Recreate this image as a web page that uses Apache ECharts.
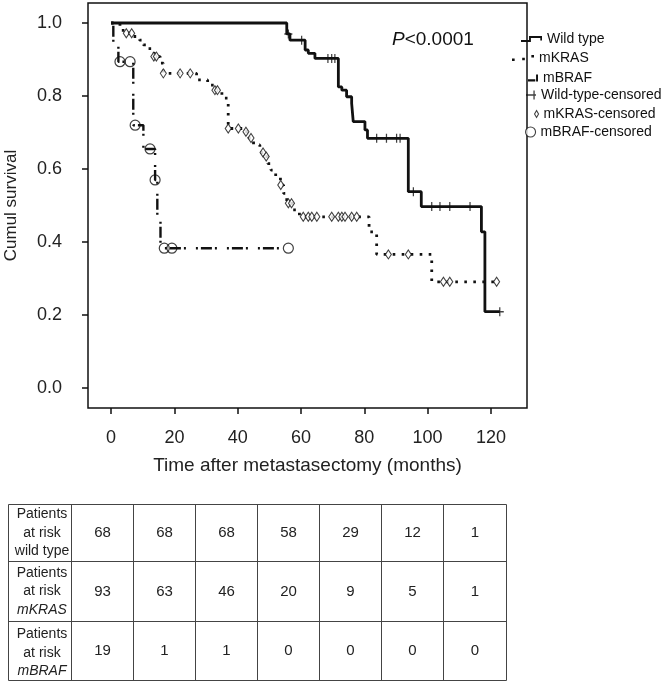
<!DOCTYPE html>
<html><head><meta charset="utf-8">
<script src="https://cdn.jsdelivr.net/npm/echarts@6/dist/echarts.min.js"></script>
<style>html,body{margin:0;padding:0;background:#fff}#c{width:668px;height:681px}</style>
</head><body><div id="c"></div>
<script>
// ---------- data ----------
const wtTime = [0, 55.5, 56.5, 61.3, 62.3, 64.4, 71.8, 72.9, 74.4, 76, 76.5, 80.2, 81, 93.9, 98, 117, 118.1, 122.8];
const wtSurv = [1, 0.97, 0.953, 0.926, 0.917, 0.903, 0.825, 0.816, 0.798, 0.78, 0.73, 0.707, 0.684, 0.538, 0.497, 0.428, 0.209, 0.209];
const wtCensT = [56, 60.2, 68.5, 69.7, 70.7, 83.9, 87, 90.2, 91.3, 95.5, 101.3, 103.9, 107, 113.4, 122.8];
const wtCensS = [0.97, 0.953, 0.903, 0.903, 0.903, 0.684, 0.684, 0.684, 0.684, 0.538, 0.497, 0.497, 0.497, 0.497, 0.209];

const krTime = [0, 2.8, 4.8, 7, 9, 10.2, 11.3, 12.8, 14, 15.5, 16.5, 27, 30.5, 32.5, 35, 37, 42, 43.5, 45, 47, 48.5, 49.5, 50.5, 52, 53.5, 54.5, 55.5, 57.5, 59.5, 81.5, 83.9, 101.3, 122.5];
const krSurv = [1, 0.98, 0.972, 0.963, 0.953, 0.94, 0.93, 0.917, 0.908, 0.89, 0.862, 0.844, 0.83, 0.816, 0.794, 0.711, 0.702, 0.685, 0.666, 0.645, 0.634, 0.615, 0.597, 0.579, 0.556, 0.533, 0.506, 0.488, 0.469, 0.428, 0.366, 0.291, 0.291];
const krCensT = [4.8, 6.5, 13.5, 14.3, 16.5, 21.8, 25, 32.8, 33.6, 37, 40.2, 42.6, 44.2, 48, 49, 53.6, 56, 57, 60.7, 62.3, 63.4, 65, 69.7, 71.8, 72.9, 73.9, 76, 77.6, 87.6, 93.9, 105, 107, 121.8];
const krCensS = [0.972, 0.972, 0.908, 0.908, 0.862, 0.862, 0.862, 0.816, 0.816, 0.711, 0.711, 0.702, 0.685, 0.645, 0.634, 0.556, 0.506, 0.506, 0.469, 0.469, 0.469, 0.469, 0.469, 0.469, 0.469, 0.469, 0.469, 0.469, 0.366, 0.366, 0.291, 0.291, 0.291];

const brTime = [0, 0.7, 2.3, 7, 10.2, 13.9, 14.6, 15.6, 56];
const brSurv = [1, 0.947, 0.894, 0.72, 0.655, 0.57, 0.47, 0.383, 0.383];
const brCensT = [2.8, 6, 7.6, 12.3, 13.9, 16.8, 19.2, 56];
const brCensS = [0.894, 0.894, 0.72, 0.655, 0.57, 0.383, 0.383, 0.383];

const xTicks = [0, 20, 40, 60, 80, 100, 120];
const yTicks = [0, 0.2, 0.4, 0.6, 0.8, 1.0];

const riskLabels = [['Patients', 'at risk', 'wild type'], ['Patients', 'at risk', 'mKRAS'], ['Patients', 'at risk', 'mBRAF']];
const riskWild = [68, 68, 68, 58, 29, 12, 1];
const riskKRAS = [93, 63, 46, 20, 9, 5, 1];
const riskBRAF = [19, 1, 1, 0, 0, 0, 0];

// ---------- build ----------
const FONT = '"Liberation Sans", Arial, Helvetica, sans-serif';
const NARROW = '"Liberation Sans Narrow", "Liberation Sans", Arial, sans-serif';
const INK = '#111';
const pairs = (a, b) => a.map((t, i) => [t, b[i]]);

const plusPath = 'path://M-0.7,-4.5 h1.4 v3.8 h3.8 v1.4 h-3.8 v3.8 h-1.4 v-3.8 h-3.8 v-1.4 h3.8 z';

const chart = echarts.init(document.getElementById('c'), null, {renderer: 'canvas'});

// table graphics
const rowsY = [504.5, 561.5, 621.5, 680.5];
const colsX = [8.5, 71.5, 133.5, 195.5, 257.5, 319.5, 381.5, 443.5, 506.5];
const g = [];
rowsY.forEach(y => g.push({type: 'line', silent: true, shape: {x1: colsX[0], y1: y, x2: colsX[colsX.length - 1], y2: y}, style: {stroke: '#444', lineWidth: 1}}));
colsX.forEach(x => g.push({type: 'line', silent: true, shape: {x1: x, y1: rowsY[0], x2: x, y2: rowsY[rowsY.length - 1]}, style: {stroke: '#444', lineWidth: 1}}));
const riskRows = [riskWild, riskKRAS, riskBRAF];
riskRows.forEach((vals, r) => {
  const yc = (rowsY[r] + rowsY[r + 1]) / 2;
  const xl = (colsX[0] + colsX[1]) / 2 + 2;
  riskLabels[r].forEach((s, k) => {
    g.push({type: 'text', silent: true, style: {text: s, x: xl, y: yc + (k - 1) * 18.5 + (r === 2 ? 2 : 0), textAlign: 'center', textVerticalAlign: 'middle',
      font: (r > 0 && k === 2 ? 'italic ' : '') + '14px ' + NARROW, fill: '#222'}});
  });
  vals.forEach((v, c) => {
    g.push({type: 'text', silent: true, style: {text: String(v), x: (colsX[c + 1] + colsX[c + 2]) / 2, y: yc, textAlign: 'center', textVerticalAlign: 'middle',
      font: '15px ' + NARROW, fill: '#222'}});
  });
});

const legendText = {fontSize: 14, color: INK, fontFamily: FONT};
function mkLegend(name, icon, left, cy, w, h, itemStyle) {
  return {show: true, data: [{name: name, icon: icon}], left: left, top: cy - Math.max(h, 16) / 2, orient: 'vertical', padding: 0,
    itemWidth: w, itemHeight: h, selectedMode: false, textStyle: legendText, itemStyle: itemStyle || {borderWidth: 0}, symbolKeepAspect: false};
}

const option = {
  animation: false,
  backgroundColor: '#fff',
  title: {text: '{p|P}<0.0001', left: 392, top: 30, padding: 0,
    textStyle: {fontSize: 19, fontWeight: 'normal', color: INK, fontFamily: FONT,
      rich: {p: {fontStyle: 'italic', fontSize: 19, color: INK, fontFamily: FONT}}}},
  legend: [
    mkLegend('Wild type', 'path://M0,4 L8,4 L8,0 L21,0 L21,4.5 L19.3,4.5 L19.3,1.9 L9.9,1.9 L9.9,5.9 L0,5.9 Z', 521, 40, 21, 6),
    mkLegend('mKRAS', 'path://M0,3.6 h2.6 v2.6 h-2.6 z M10,2.8 h2.6 v2.6 h-2.6 z M19,0 h2.6 v2.6 h-2.6 z', 512, 59, 22, 6),
    mkLegend('mBRAF', 'path://M0,6 h7.5 v2 h-7.5 z M8.3,1.5 h2 v6.5 h-2 z', 528, 79, 10, 7),
    mkLegend('Wild-type-censored', 'path://M0,4 h10 v1.3 h-10 z M7.4,0 h1.3 v9.3 h-1.3 z', 526, 96, 10, 9),
    mkLegend('mKRAS-censored', 'diamond', 534, 115, 4, 7, {color: '#fff', borderColor: INK, borderWidth: 1.1}),
    mkLegend('mBRAF-censored', 'circle', 525, 133, 10, 10, {color: '#fff', borderColor: INK, borderWidth: 1.1})
  ],
  grid: {left: 88, top: 3, right: 141, bottom: 273, show: true, borderColor: INK, borderWidth: 1.5, backgroundColor: 'transparent',
    containLabel: false, outerBoundsMode: 'none'},
  xAxis: {
    type: 'value', min: -7.3, max: 131.4,
    name: 'Time after metastasectomy (months)', nameLocation: 'middle', nameGap: 48,
    nameTextStyle: {fontSize: 19, color: '#222', fontFamily: FONT},
    axisLine: {show: false, onZero: false},
    splitLine: {show: false},
    axisTick: {show: true, length: 6, customValues: xTicks, lineStyle: {color: INK, width: 1.5}},
    axisLabel: {customValues: xTicks, margin: 21, fontSize: 18, color: '#222', fontFamily: FONT}
  },
  yAxis: {
    type: 'value', min: -0.0548, max: 1.0548,
    name: 'Cumul survival', nameLocation: 'middle', nameGap: 68, nameRotate: 90,
    nameTextStyle: {fontSize: 17, color: '#222', fontFamily: FONT},
    axisLine: {show: false, onZero: false},
    splitLine: {show: false},
    axisTick: {show: true, length: 6, customValues: yTicks, lineStyle: {color: INK, width: 1.5}},
    axisLabel: {customValues: yTicks, margin: 26, fontSize: 18, color: '#222', fontFamily: FONT, formatter: v => v.toFixed(1)}
  },
  series: [
    {name: 'mKRAS', type: 'line', step: 'end', data: pairs(krTime, krSurv), symbol: 'none', color: INK,
      lineStyle: {color: INK, width: 2.8, type: [2.6, 6.4]}, z: 2, silent: true},
    {name: 'mBRAF', type: 'line', step: 'end', data: pairs(brTime, brSurv), symbol: 'none', color: INK,
      lineStyle: {color: INK, width: 2.4, type: [2, 3, 11, 3, 2, 10]}, z: 2, silent: true},
    {name: 'Wild type', type: 'line', step: 'end', data: pairs(wtTime, wtSurv), symbol: 'none', color: INK,
      lineStyle: {color: INK, width: 2.8}, z: 3, silent: true},
    {name: 'Wild-type-censored', type: 'scatter', data: pairs(wtCensT, wtCensS), symbol: plusPath, symbolSize: [8, 9],
      itemStyle: {color: INK}, z: 4, silent: true},
    {name: 'mKRAS-censored', type: 'scatter', data: pairs(krCensT, krCensS), symbol: 'diamond', symbolSize: [6, 9],
      itemStyle: {color: '#fff', borderColor: INK, borderWidth: 1.1}, z: 4, silent: true},
    {name: 'mBRAF-censored', type: 'scatter', data: pairs(brCensT, brCensS), symbol: 'circle', symbolSize: 10,
      itemStyle: {color: 'rgba(255,255,255,0)', borderColor: INK, borderWidth: 1.2}, z: 4, silent: true}
  ],
  graphic: g
};
chart.setOption(option);
</script></body></html>
